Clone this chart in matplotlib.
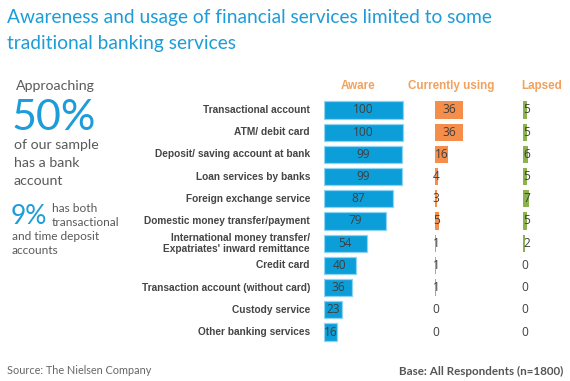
import matplotlib
matplotlib.use("Agg")
import matplotlib.pyplot as plt

categories = ["Transactional account", "ATM/ debit card", "Deposit/ saving account at bank",
              "Loan services by banks", "Foreign exchange service",
              "Domestic money transfer/payment",
              "International money transfer/\nExpatriates' inward remittance",
              "Credit card", "Transaction account (without card)", "Custody service",
              "Other banking services"]
aware = [100, 100, 99, 99, 87, 79, 54, 40, 36, 23, 16]
using = [36, 36, 16, 4, 3, 5, 1, 1, 1, 0, 0]
lapsed = [5, 5, 6, 5, 7, 5, 2, 0, 0, 0, 0]
headers = ["Aware", "Currently using", "Lapsed"]

W, H = 570, 381
fig = plt.figure(figsize=(W / 100, H / 100), dpi=100)

BLUE = "#0B9ED8"
ORANGE = "#F58D4B"
GREEN = "#8CB24F"
HEAD = "#F0A25E"
TXT = "#3F3F3F"
TITLE = "#1C9CD8"
GRAY = "#5A5A5A"

ax_l, ax_r = 324, 570
ax_t, ax_b = 98.9, 343.1
ax = fig.add_axes([ax_l / W, 1 - ax_b / H, (ax_r - ax_l) / W, (ax_b - ax_t) / H])
ax.set_xlim(0, 311.4)
ax.set_ylim(len(categories) - 0.5, -0.5)
ax.axis("off")

off_using = 140.5
off_lapsed = 252
ys = list(range(len(categories)))
bh = 0.77

ax.barh(ys, aware, height=bh, left=0, color=BLUE, edgecolor="#8ED3F2", linewidth=0.9)
ax.barh(ys, using, height=bh, left=off_using, color=ORANGE, linewidth=0)
ax.barh(ys, lapsed, height=bh, left=off_lapsed, color=GREEN, linewidth=0)

vfont = dict(family=["Open Sans", "DejaVu Sans"], fontsize=8.6, color=TXT, va="center", ha="center")
for y, a, u, l in zip(ys, aware, using, lapsed):
    ax.text(max(a / 2, 8.5), y, str(a), **vfont)
    ax.text(off_using + max(u / 2, 1.6), y, str(u), **vfont)
    ax.text(off_lapsed + (4.3 if l > 0 else 1.6), y, str(l), **vfont)

hfont = dict(family=["Liberation Sans", "DejaVu Sans"], fontsize=8.4, fontweight="bold",
             color=HEAD, va="center", ha="center")
for x, t in zip([43, 161, 276], headers):
    ax.text(x, -1.08, t, clip_on=False, **hfont)

for y, c in zip(ys, categories):
    ax.annotate(c, xy=(0, y), xycoords="data", xytext=(-14, 0), textcoords="offset pixels",
                ha="right", va="center", multialignment="right", linespacing=1.1,
                family=["Liberation Sans", "DejaVu Sans"], fontsize=7.3, fontweight="bold",
                color="#454545", annotation_clip=False)

tfont = dict(family=["Lato", "DejaVu Sans"], fontsize=13.8, color=TITLE, va="center", ha="left")
fig.text(7 / W, 1 - 17 / H, "Awareness and usage of financial services limited to some", **tfont)
fig.text(7 / W, 1 - 43 / H, "traditional banking services", **tfont)

lf = ["Lato", "DejaVu Sans"]
fig.text(16 / W, 1 - 86 / H, "Approaching", family=lf, fontsize=10.2, color=GRAY, va="center")
fig.text(12 / W, 1 - 118 / H, "50%", family=lf, fontsize=31, color=TITLE, va="center")
for yy, t in [(145, "of our sample"), (163, "has a bank"), (181, "account")]:
    fig.text(14 / W, 1 - yy / H, t, family=lf, fontsize=10.2, color=GRAY, va="center")
fig.text(11 / W, 1 - 216 / H, "9%", family=lf, fontsize=19, color=TITLE, va="center")
fig.text(52 / W, 1 - 208 / H, "has both", family=lf, fontsize=8.6, color=GRAY, va="center")
fig.text(52 / W, 1 - 222 / H, "transactional", family=lf, fontsize=8.6, color=GRAY, va="center")
fig.text(12 / W, 1 - 236 / H, "and time deposit", family=lf, fontsize=8.6, color=GRAY, va="center")
fig.text(12 / W, 1 - 250 / H, "accounts", family=lf, fontsize=8.6, color=GRAY, va="center")

fig.text(7 / W, 1 - 371 / H, "Source: The Nielsen Company", family=lf, fontsize=7.8,
         color="#666666", va="center")
fig.text(563 / W, 1 - 371 / H, "Base: All Respondents (n=1800)", family=lf, fontsize=8.4,
         fontweight="bold", color="#555555", va="center", ha="right")

fig.savefig("out.png", dpi=100, facecolor="white")
